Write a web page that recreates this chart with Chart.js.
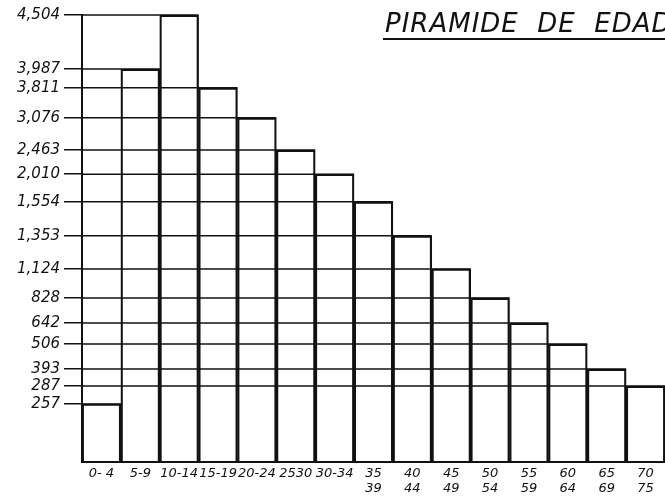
<!DOCTYPE html>
<html>
<head>
<meta charset="utf-8">
<script src="https://cdn.jsdelivr.net/npm/chart.js@4.4.1/dist/chart.umd.min.js"></script>
<style>
  html, body { margin: 0; padding: 0; background: #fff; }
  #wrap { width: 665px; height: 499px; position: relative; }
</style>
</head>
<body>
<div id="wrap"><canvas id="c"></canvas></div>
<script>
// ---- data ----
const ageGroups = ['0- 4', '5-9', '10-14', '15-19', '20-24', '2530', '30-34',
  ['35', '39'], ['40', '44'], ['45', '49'], ['50', '54'], ['55', '59'],
  ['60', '64'], ['65', '69'], ['70', '75']];
const population = [257, 3987, 4504, 3811, 3076, 2463, 2010, 1554, 1353, 1124, 828, 642, 506, 393, 287];
const yTickValues = [257, 287, 393, 506, 642, 828, 1124, 1353, 1554, 2010, 2463, 3076, 3811, 3987, 4504];
const titleText = 'PIRAMIDE  DE  EDADES';

// ---- hand-drawn (non-linear) value axis: share of the axis height at which each tick value was drawn ----
const handAxisSpacing = [0.130, 0.170, 0.208, 0.264, 0.311, 0.367, 0.432, 0.506, 0.582, 0.644, 0.698, 0.770, 0.837, 0.879, 1.0];

class HandAxisScale extends Chart.LinearScale {
  _knots() {
    return { v: [0].concat(yTickValues), f: [0].concat(handAxisSpacing) };
  }
  _toDecimal(value) {
    const { v, f } = this._knots();
    if (value <= v[0]) return 0;
    for (let i = 1; i < v.length; i++) {
      if (value <= v[i]) {
        const t = (value - v[i - 1]) / (v[i] - v[i - 1]);
        return f[i - 1] + t * (f[i] - f[i - 1]);
      }
    }
    const n = v.length - 1;
    return f[n] + (value - v[n]) * (f[n] - f[n - 1]) / (v[n] - v[n - 1]);
  }
  getPixelForValue(value) {
    return this.getPixelForDecimal(this._toDecimal(value));
  }
  getValueForPixel(pixel) {
    const d = this.getDecimalForPixel(pixel);
    const { v, f } = this._knots();
    for (let i = 1; i < f.length; i++) {
      if (d <= f[i]) {
        const t = (d - f[i - 1]) / (f[i] - f[i - 1]);
        return v[i - 1] + t * (v[i] - v[i - 1]);
      }
    }
    return v[v.length - 1];
  }
}
HandAxisScale.id = 'handAxis';
HandAxisScale.defaults = Chart.LinearScale.defaults;
Chart.register(HandAxisScale);

// horizontal guide from the axis to the right edge of each bar, at that bar's value
const stairGrid = {
  id: 'stairGrid',
  beforeDatasetsDraw(chart) {
    const { ctx, chartArea } = chart;
    const meta = chart.getDatasetMeta(0);
    ctx.save();
    ctx.strokeStyle = '#111';
    ctx.lineWidth = 1.5;
    meta.data.forEach(el => {
      const { x, y, width } = el.getProps(['x', 'y', 'width'], true);
      ctx.beginPath();
      ctx.moveTo(chartArea.left, y);
      ctx.lineTo(x + width / 2, y);
      ctx.stroke();
    });
    ctx.restore();
  }
};

const titleDraw = {
  id: 'titleDraw',
  afterDraw(chart) {
    const { ctx } = chart;
    ctx.save();
    ctx.fillStyle = '#111';
    ctx.font = 'italic 26px "DejaVu Sans"';
    ctx.textBaseline = 'alphabetic';
    try { ctx.letterSpacing = '1px'; } catch (e) {}
    ctx.fillText(titleText, 385, 32);
    ctx.fillRect(383, 38, 300, 2);
    ctx.restore();
  }
};

new Chart(document.getElementById('c'), {
  type: 'bar',
  data: {
    labels: ageGroups,
    datasets: [{
      data: population,
      backgroundColor: 'rgba(0,0,0,0)',
      borderColor: '#111',
      borderWidth: 1.6,
      borderSkipped: 'start',
      categoryPercentage: 1.0,
      barPercentage: 1.0,
      clip: false
    }]
  },
  options: {
    responsive: true,
    maintainAspectRatio: false,
    animation: false,
    events: [],
    layout: { padding: { top: 15, right: 0, left: 0, bottom: 0 } },
    plugins: { legend: { display: false }, tooltip: { enabled: false }, title: { display: false } },
    scales: {
      x: {
        type: 'category',
        offset: true,
        grid: { display: false, drawTicks: false, tickLength: 0 },
        border: { display: true, color: '#111', width: 2 },
        ticks: {
          color: '#111', padding: 4, maxRotation: 0, autoSkip: false,
          font: { family: 'DejaVu Sans', style: 'italic', size: 13, lineHeight: 1.15 }
        },
        afterFit(s) { s.height = 37; }
      },
      y: {
        type: 'handAxis',
        min: 0,
        max: 4504,
        afterBuildTicks(axis) { axis.ticks = yTickValues.map(v => ({ value: v })); },
        grid: { display: true, drawOnChartArea: false, drawTicks: true, tickLength: 18, color: '#111', lineWidth: 1.5 },
        border: { display: true, color: '#111', width: 2 },
        ticks: {
          color: '#111', padding: 4,
          font: { family: 'DejaVu Sans', style: 'italic', size: 15 },
          callback: (value) => Number(value).toLocaleString('en-US')
        },
        afterFit(s) { s.width = 82; }
      }
    }
  },
  plugins: [stairGrid, titleDraw]
});
</script>
</body>
</html>
